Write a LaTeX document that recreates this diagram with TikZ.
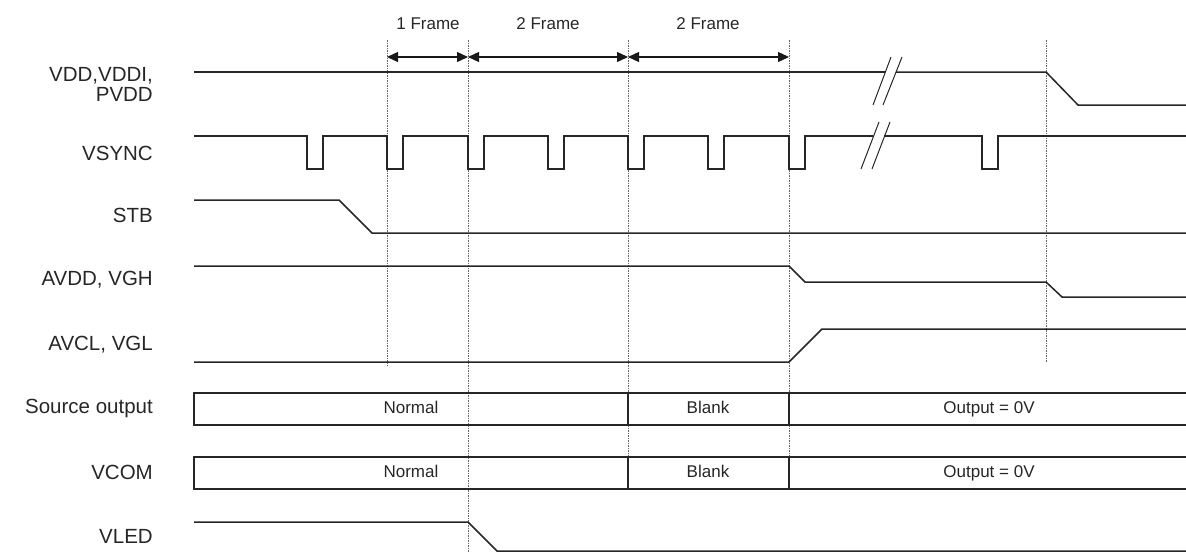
\documentclass[tikz,border=0pt]{standalone}
\usepackage{fontspec}
\setmainfont{Liberation Sans}
\usetikzlibrary{arrows.meta}
\begin{document}
\begin{tikzpicture}[x=1pt,y=-1pt,
  sig/.style={line width=1.5pt, draw=black!85},
  guide/.style={draw=black!60, line width=0.9pt, dash pattern=on 2pt off 1.2pt on 0.6pt off 1.2pt},
  lbl/.style={anchor=east, font=\fontsize{20.5}{18}\selectfont, text=black!85, inner sep=0pt},
  lblb/.style={anchor=base east, font=\fontsize{20.5}{18}\selectfont, text=black!85, inner sep=0pt},
  small/.style={font=\fontsize{17}{19}\selectfont, text=black!85, inner sep=0pt, text height=12.5pt, text depth=3.5pt},
  dim/.style={line width=1.3pt, draw=black!90, {Triangle[length=11pt,width=10pt]}-{Triangle[length=11pt,width=10pt]}},
  brk/.style={line width=1pt, draw=black!85},
  seg/.style={line width=1.9pt, draw=black!85}]
\useasboundingbox (0,0) rectangle (1186,552);

% signal labels
\node[lblb] (lvdd)  at (153,81)  {VDD,VDDI,};
\node[lblb] (lvdd2) at (153,101) {PVDD};
\node[lbl] (lvs)   at (153,153) {VSYNC};
\node[lbl] (lstb)  at (153,215) {STB};
\node[lbl] (lavdd) at (153,280) {AVDD, VGH};
\node[lbl] (lavcl) at (153,345) {AVCL, VGL};
\node[lbl] (lsrc)  at (153,408) {Source output};
\node[lbl] (lvcom) at (153,472) {VCOM};
\node[lbl] (lvled) at (153,536) {VLED};

% guide coordinates
\coordinate (g1t) at (387,40);  \coordinate (g1b) at (387,366);
\coordinate (g2t) at (468,40);  \coordinate (g2b) at (468,552);
\coordinate (g3t) at (628,40);  \coordinate (g3b) at (628,457);
\coordinate (g4t) at (789,40);  \coordinate (g4b) at (789,457);
\coordinate (g5t) at (1046,40); \coordinate (g5b) at (1046,362);
\foreach \g in {1,...,5} \draw[guide] (g\g t) -- (g\g b);

% frame dimension arrows
\coordinate (a1) at (387,57); \coordinate (a2) at (468,57);
\coordinate (a3) at (628,57); \coordinate (a4) at (789,57);
\draw[dim] (a1) -- (a2);
\draw[dim] (a2) -- (a3);
\draw[dim] (a3) -- (a4);
\node[small] (f1) at (428,25) {1 Frame};
\node[small] (f2) at (548,25) {2 Frame};
\node[small] (f3) at (708,25) {2 Frame};

% VDD
\draw[sig] (194,72) -- (885,72);
\draw[sig] (896,72) -- (1046,72) -- (1078,105) -- (1186,105);
\draw[brk] (873,105) -- (891,57);
\draw[brk] (883,105) -- (902,57);

% VSYNC
\draw[sig] (194,136)
  \foreach \p in {307,387,468,548,628,708,789} { -- (\p,136) -- (\p,169) -- ({\p+16},169) -- ({\p+16},136) }
  -- (873,136);
\draw[sig] (884,136) -- (982,136) -- (982,169) -- (998,169) -- (998,136) -- (1186,136);
\draw[brk] (861,169) -- (879,122);
\draw[brk] (872,169) -- (890,122);

% STB
\draw[sig] (194,200) -- (339,200) -- (372,233) -- (1186,233);

% AVDD, VGH
\draw[sig] (194,266) -- (789,266) -- (805,282) -- (1046,282) -- (1062,297) -- (1186,297);

% AVCL, VGL
\draw[sig] (194,362) -- (789,362) -- (822,329) -- (1186,329);

% Source output
\draw[sig] (1186,393) -- (194,393) -- (194,425) -- (1186,425);
\draw[seg] (628,393) -- (628,425);
\draw[seg] (789,393) -- (789,425);
\node[small] (s1) at (411,409) {Normal};
\node[small] (s2) at (708,409) {Blank};
\node[small] (s3) at (989,409) {Output = 0V};

% VCOM
\draw[sig] (1186,457) -- (194,457) -- (194,489) -- (1186,489);
\draw[seg] (628,457) -- (628,489);
\draw[seg] (789,457) -- (789,489);
\node[small] (v1) at (411,473) {Normal};
\node[small] (v2) at (708,473) {Blank};
\node[small] (v3) at (989,473) {Output = 0V};

% VLED
\draw[sig] (194,522) -- (468,522) -- (497,551) -- (1186,551);
\end{tikzpicture}
\end{document}
